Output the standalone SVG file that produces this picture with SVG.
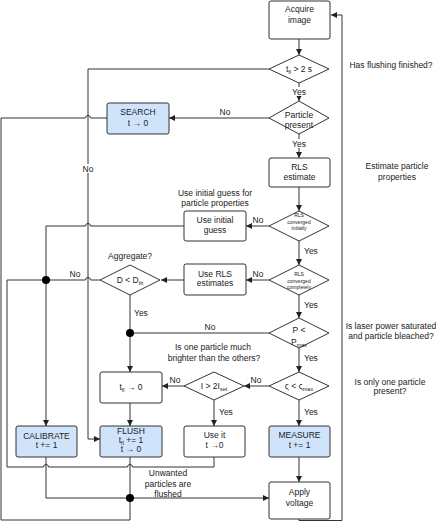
<svg xmlns="http://www.w3.org/2000/svg" width="436" height="522" viewBox="0 0 436 522">
<defs>
<marker id="ar" markerWidth="6" markerHeight="6" refX="6" refY="3" orient="auto" markerUnits="userSpaceOnUse">
<path d="M0,0 L6,3 L0,6 z" fill="#222"/>
</marker>
<style>
text{font-family:"Liberation Sans",Arial,sans-serif;font-size:8.5px;fill:#222;text-anchor:middle}
.l{text-anchor:start}
.t{font-size:5px}
.s{font-size:5.5px}
.box{fill:#fff;stroke:#333;stroke-width:1}
.blue{fill:#cfe4fb;stroke:#333;stroke-width:1}
.c{fill:none;stroke:#333;stroke-width:1;stroke-linejoin:round}
.a{marker-end:url(#ar)}
.dot{fill:#000}
</style>
</defs>
<rect width="436" height="522" fill="#fff"/>

<g id="connectors">
<path class="c a" d="M299,39 V55"/>
<path class="c a" d="M299,83 V101"/>
<path class="c a" d="M299,134 V158"/>
<path class="c a" d="M269,118 H169"/>
<path class="c a" d="M299,187 V211"/>
<path class="c a" d="M269,226 H246"/>
<path class="c a" d="M299,241 V265"/>
<path class="c a" d="M269,280 H246"/>
<path class="c a" d="M299,295 V318"/>
<path class="c" d="M269,333 H130"/>
<path class="c a" d="M299,348 V372"/>
<path class="c a" d="M269,386 H244"/>
<path class="c a" d="M184,386 H162"/>
<path class="c a" d="M214,400 V426"/>
<path class="c a" d="M299,400 V426"/>
<path class="c a" d="M299,457 V482"/>
<path class="c a" d="M299,519 V520.5 H342 V15 H331"/>
<path class="c a" d="M269,69 H88 V439 H100"/>
<path class="c" d="M184,226 H90.5 A2.5,2.5 0 0 0 85.5,226 H46 V280"/>
<path class="c a" d="M184,280 H161"/>
<path class="c" d="M100,280 H90.5 A2.5,2.5 0 0 0 85.5,280 H46"/>
<path class="c a" d="M46,280 V426"/>
<path class="c a" d="M130,295 V372"/>
<path class="c a" d="M130,403 V426"/>
<path class="c" d="M214,457 V467 H132.5 A2.5,2.5 0 0 0 127.5,467 H48.5 A2.5,2.5 0 0 0 43.5,467 H7 V280 H46"/>
<path class="c" d="M46,457 V498 H130"/>
<path class="c" d="M130,457 V498"/>
<path class="c a" d="M130,498 H269"/>
<path class="c" d="M107,118 H90.5 A2.5,2.5 0 0 0 85.5,118 H1 V520 H130 V498"/>
<circle class="dot" cx="46" cy="280" r="4"/>
<circle class="dot" cx="130" cy="333" r="4"/>
<circle class="dot" cx="130" cy="498" r="4"/>
<rect x="292" y="87" width="14" height="9" fill="#fff"/>
<text x="299" y="95">Yes</text>
<rect x="292" y="139" width="14" height="9" fill="#fff"/>
<text x="299" y="147">Yes</text>
<rect x="82" y="164" width="12" height="9" fill="#fff"/>
<text x="88" y="172">No</text>
<text x="225" y="115">No</text>
<text x="258" y="223">No</text>
<text x="258" y="277">No</text>
<text x="210" y="330">No</text>
<text x="256" y="383">No</text>
<text x="175" y="383">No</text>
<text x="75" y="277">No</text>
<text class="l" x="304" y="254">Yes</text>
<text class="l" x="304" y="308">Yes</text>
<text class="l" x="304" y="361">Yes</text>
<text class="l" x="304" y="415">Yes</text>
<text class="l" x="219" y="415">Yes</text>
<text class="l" x="134" y="316">Yes</text>
</g>

<g id="acquire"><rect class="box" x="269" y="1" width="61" height="38" rx="2"/><text x="299.5" y="12">Acquire</text><text x="299.5" y="23">image</text></g>
<g id="flushdone"><path class="box" d="M299,55 L329,69 L299,83 L269,69 z"/><text x="299" y="72"><tspan>t</tspan><tspan class="s" dy="1.5">fl</tspan><tspan dy="-1.5"> &gt; 2 s</tspan></text></g>
<g id="present"><path class="box" d="M299,101 L329,118 L299,134 L269,118 z"/><text x="299" y="118">Particle</text><text x="299" y="128">present</text></g>
<g id="search"><rect class="blue" x="107" y="103" width="62" height="31" rx="2"/><text x="138" y="115">SEARCH</text><text x="138" y="126">t → 0</text></g>
<g id="rls"><rect class="box" x="269" y="158" width="61" height="29" rx="2"/><text x="299.5" y="170">RLS</text><text x="299.5" y="180">estimate</text></g>
<g id="conv1"><path class="box" d="M299,211 L329,226 L299,241 L269,226 z"/><text class="t" x="299" y="217">RLS</text><text class="t" x="299" y="224">converged</text><text class="t" x="299" y="230">initially</text></g>
<g id="initguess"><rect class="box" x="184" y="211" width="62" height="30" rx="2"/><text x="215" y="223">Use initial</text><text x="215" y="233">guess</text></g>
<g id="conv2"><path class="box" d="M299,265 L329,280 L299,295 L269,280 z"/><text class="t" x="299" y="276">RLS</text><text class="t" x="299" y="283">converged</text><text class="t" x="299" y="289">completely</text></g>
<g id="userls"><rect class="box" x="184" y="264" width="62" height="31" rx="2"/><text x="215" y="277">Use RLS</text><text x="215" y="286">estimates</text></g>
<g id="aggregate"><path class="box" d="M130,265 L160,280 L130,295 L100,280 z"/><text x="130" y="283"><tspan>D &lt; D</tspan><tspan class="s" dy="1.5">th</tspan></text></g>
<g id="power"><path class="box" d="M299,318 L329,333 L299,348 L269,333 z"/><text x="299" y="333">P &lt;</text><text x="299" y="345"><tspan>P</tspan><tspan class="s" dy="1.5">max</tspan></text></g>
<g id="sigma"><path class="box" d="M299,372 L329,386 L299,400 L269,386 z"/><text x="299" y="389"><tspan>ς &lt; ς</tspan><tspan class="s" dy="1.5">max</tspan></text></g>
<g id="bright"><path class="box" d="M214,372 L244,386 L214,400 L184,386 z"/><text x="214" y="389"><tspan>I &gt; 2I</tspan><tspan class="s" dy="1.5">set</tspan></text></g>
<g id="tflreset"><rect class="box" x="100" y="372" width="62" height="31" rx="2"/><text x="131" y="390"><tspan>t</tspan><tspan class="s" dy="1.5">fl</tspan><tspan dy="-1.5"> → 0</tspan></text></g>
<g id="calibrate"><rect class="blue" x="16" y="426" width="61" height="31" rx="2"/><text x="46.5" y="439">CALIBRATE</text><text x="46.5" y="448">t += 1</text></g>
<g id="flush"><rect class="blue" x="100" y="426" width="62" height="31" rx="2"/><text x="131" y="434">FLUSH</text><text x="131" y="443"><tspan>t</tspan><tspan class="s" dy="1.5">fl</tspan><tspan dy="-1.5"> += 1</tspan></text><text x="131" y="452">t → 0</text></g>
<g id="useit"><rect class="box" x="184" y="426" width="61" height="31" rx="2"/><text x="214.5" y="438">Use it</text><text x="214.5" y="448">t →0</text></g>
<g id="measure"><rect class="blue" x="269" y="426" width="61" height="31" rx="2"/><text x="299.5" y="438">MEASURE</text><text x="299.5" y="448">t += 1</text></g>
<g id="apply"><rect class="box" x="269" y="482" width="61" height="37" rx="2"/><text x="299.5" y="495">Apply</text><text x="299.5" y="506">voltage</text></g>

<g id="notes">
<text x="391" y="68">Has flushing finished?</text>
<text x="397" y="169">Estimate particle</text>
<text x="397" y="180">properties</text>
<text x="215" y="196">Use initial guess for</text>
<text x="215" y="206">particle properties</text>
<text x="130" y="259">Aggregate?</text>
<text x="391" y="329">Is laser power saturated</text>
<text x="391" y="339">and particle bleached?</text>
<text x="213" y="350">Is one particle much</text>
<text x="214" y="361">brighter than the others?</text>
<text x="390" y="385">Is only one particle</text>
<text x="390" y="394">present?</text>
<text x="168" y="476">Unwanted</text>
<text x="168" y="487">particles are</text>
<text x="168" y="497">flushed</text>
</g>
</svg>
